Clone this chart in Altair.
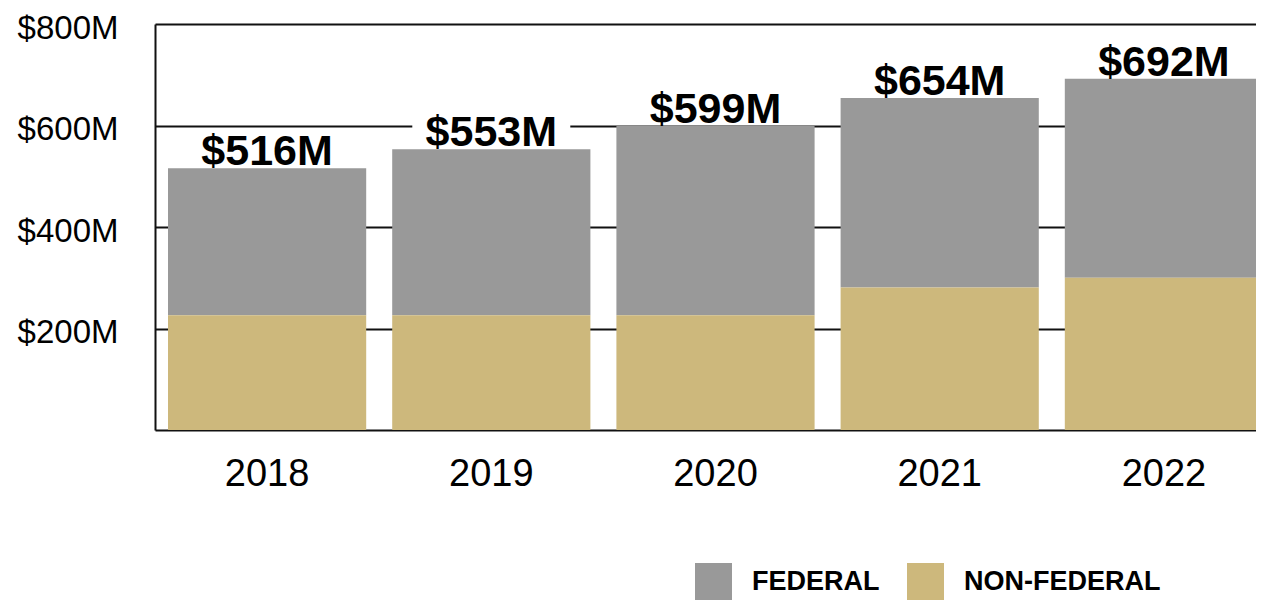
import altair as alt
import pandas as pd

years = ["2018", "2019", "2020", "2021", "2022"]
federal = [290, 327, 373, 373, 392]
non_federal = [226, 226, 226, 281, 300]
totals = [516, 553, 599, 654, 692]
total_labels = ["$516M", "$553M", "$599M", "$654M", "$692M"]
series = ["FEDERAL", "NON-FEDERAL"]
colors = ["#999999", "#CDB87C"]
y_ticks = [200, 400, 600, 800]

rows = []
for i, yr in enumerate(years):
    rows.append({"year": yr, "series": "FEDERAL", "value": federal[i], "order": 1})
    rows.append({"year": yr, "series": "NON-FEDERAL", "value": non_federal[i], "order": 0})
df = pd.DataFrame(rows)
tot = pd.DataFrame({"year": years, "total": totals, "label": total_labels})

FONT = "Liberation Sans"

# band range runs slightly past the visible view, as in the cropped original
x_scale = alt.Scale(range=[0, 1121], paddingInner=0.116, paddingOuter=0.058)
y_scale = alt.Scale(domain=[0, 800], nice=False)

x = alt.X(
    "year:N",
    sort=years,
    scale=x_scale,
    axis=alt.Axis(title=None, labelAngle=0, ticks=False, labelFontSize=38,
                  labelPadding=25, domainColor="#111111", domainWidth=2,
                  labelColor="black", labelFont=FONT),
)

bars = alt.Chart(df).mark_bar().encode(
    x=x,
    y=alt.Y("value:Q", stack="zero", scale=y_scale,
            axis=alt.Axis(title=None, values=y_ticks,
                          labelExpr="'$' + datum.value + 'M'",
                          ticks=False, labelFontSize=33, labelPadding=37,
                          labelOffset=4, grid=True, gridColor="#111111",
                          gridWidth=2, domainColor="#111111", domainWidth=2,
                          labelColor="black", labelFont=FONT)),
    color=alt.Color("series:N", scale=alt.Scale(domain=series, range=colors),
                    legend=alt.Legend(title=None, orient="none", legendX=540,
                                      legendY=539, direction="horizontal",
                                      symbolType="square", symbolSize=1369,
                                      symbolStrokeWidth=0, symbolOpacity=1,
                                      labelFontSize=27, labelFont=FONT,
                                      labelFontWeight="bold", labelOffset=20,
                                      labelLimit=400,
                                      columnPadding=27, labelColor="black")),
    order=alt.Order("order:Q"),
)

# white box behind each total label (interrupts gridlines like the original)
box_shape = "M-1,-0.22H1V0.22H-1Z"
boxes = alt.Chart(tot).mark_point(
    shape=box_shape, size=158 * 158, filled=True, fill="white",
    opacity=1, strokeWidth=0, yOffset=-20,
).encode(
    x=alt.X("year:N", sort=years, scale=x_scale),
    y=alt.Y("total:Q", scale=y_scale),
)

labels = alt.Chart(tot).mark_text(
    font=FONT, fontSize=43, fontWeight="bold", baseline="alphabetic",
    align="center", dy=-3, color="black",
).encode(
    x=alt.X("year:N", sort=years, scale=x_scale),
    y=alt.Y("total:Q", scale=y_scale),
    text="label:N",
)

chart = alt.layer(bars, boxes, labels).properties(
    width=1101, height=406,
    padding={"left": 147, "top": 16, "right": 0, "bottom": 171},
    autosize=alt.AutoSizeParams(type="none"),
).configure_view(stroke=None)

chart.save("out.html", embed_options={"renderer": "svg", "actions": False})
